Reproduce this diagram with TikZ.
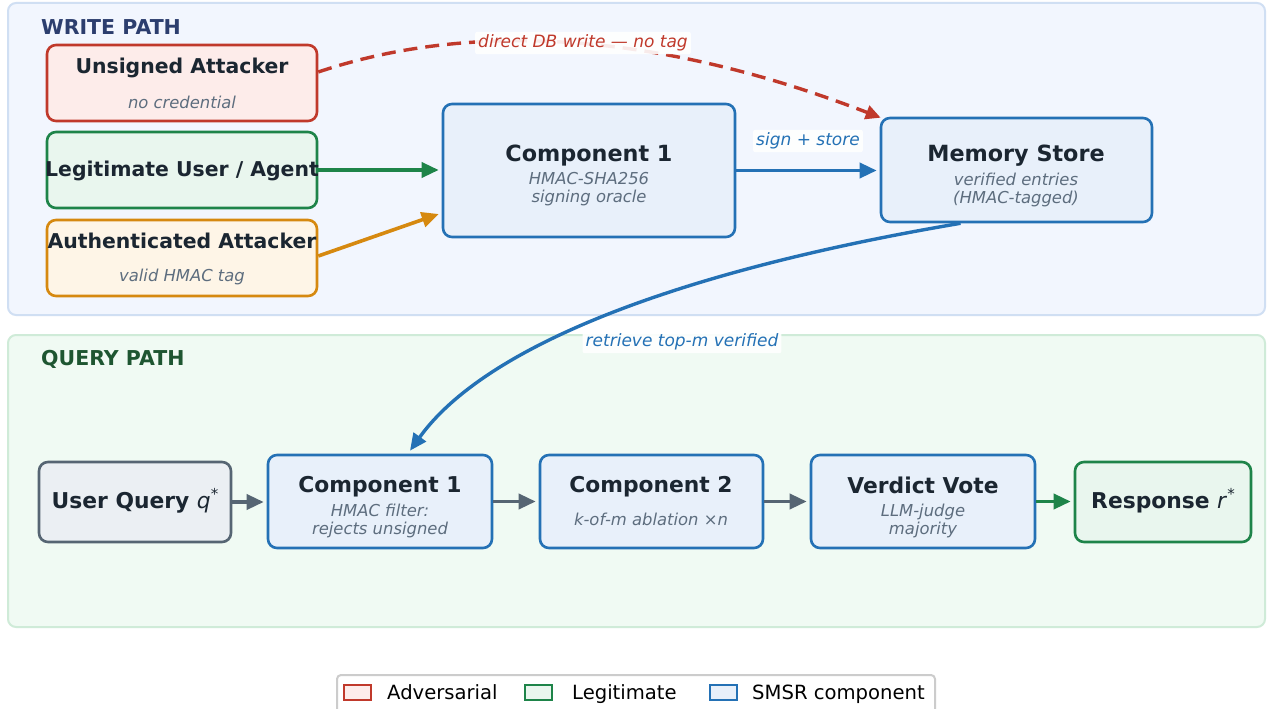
\documentclass[tikz,border=0pt]{standalone}
\usepackage{fontspec}
\setmainfont{DejaVu Sans}
\usetikzlibrary{arrows.meta}
\definecolor{cred}{HTML}{C0392B}\definecolor{credf}{HTML}{FDECEA}
\definecolor{cgreen}{HTML}{1E8449}\definecolor{cgreenf}{HTML}{E9F6EE}
\definecolor{corange}{HTML}{D68910}\definecolor{corangef}{HTML}{FEF5E7}
\definecolor{cblue}{HTML}{2471B5}\definecolor{cbluef}{HTML}{E8F0FA}
\definecolor{cgray}{HTML}{566573}\definecolor{cgrayf}{HTML}{EBEFF3}
\definecolor{ctext}{HTML}{1B2631}\definecolor{csub}{HTML}{5D6D7E}
\definecolor{wpf}{HTML}{F2F6FE}\definecolor{wpd}{HTML}{D0DFF3}
\definecolor{qpf}{HTML}{F0FAF3}\definecolor{qpd}{HTML}{CFEBD8}
\definecolor{wlab}{HTML}{2C3E6E}\definecolor{qlab}{HTML}{1E5631}
\newcommand{\fs}[1]{\fontsize{#1}{#1}\selectfont}
\newcommand{\fsb}[2]{\fontsize{#1}{#2}\selectfont}
\begin{document}
\begin{tikzpicture}[x=1pt,y=-1pt,
  panel/.style={draw, rounded corners=8pt, line width=2pt},
  boxn/.style={draw, rounded corners=9pt, line width=2.6pt, inner sep=0pt},
  ttl/.style={inner sep=0pt, text=ctext, font=\fs{20.4}\bfseries},
  bigttl/.style={inner sep=0pt, text=ctext, font=\fs{22.3}\bfseries},
  subt/.style={inner sep=0pt, text=csub, font=\fsb{16.4}{18}\itshape, align=center},
  elab/.style={fill=white, fill opacity=0.9, text opacity=1, rounded corners=2pt, inner sep=3pt, font=\fs{17}\itshape},
  arr/.style={line width=3.6pt, -{Triangle[length=17pt,width=15pt]}},
  plab/.style={inner sep=0pt, font=\fs{20.5}\bfseries, anchor=west},
  legp/.style={draw, line width=2pt, minimum width=27pt, minimum height=15pt, inner sep=0pt},
  legt/.style={inner sep=0pt, font=\fs{19.6}, anchor=base west, text=black}]
\clip (0,0) rectangle (1270,709);
\fill[white] (0,0) rectangle (1270,709);
% panels
\draw[panel, draw=wpd, fill=wpf] (8,3) rectangle (1265,315);
\draw[panel, draw=qpd, fill=qpf] (8,335) rectangle (1265,627);
\node[plab, text=wlab] (wl) at (41,27.5) {WRITE PATH};
\node[plab, text=qlab] (ql) at (41,359.5) {QUERY PATH};
% write path boxes
\node[boxn, draw=cred, fill=credf, minimum width=270pt, minimum height=76pt] (ua) at (182,83) {};
\node[ttl] (uat) at (182,68) {Unsigned Attacker};
\node[subt] (uas) at (182,102) {no credential};
\node[boxn, draw=cgreen, fill=cgreenf, minimum width=270pt, minimum height=76pt] (lu) at (182,170) {};
\node[ttl] (lut) at (182,171) {Legitimate User / Agent};
\node[boxn, draw=corange, fill=corangef, minimum width=270pt, minimum height=76pt] (aa) at (182,258) {};
\node[ttl] (aat) at (182,241) {Authenticated Attacker};
\node[subt] (aas) at (182,276.5) {valid HMAC tag};
\node[boxn, draw=cblue, fill=cbluef, minimum width=292pt, minimum height=133pt] (c1) at (589,170.5) {};
\node[bigttl] (c1t) at (589,155.5) {Component 1};
\node[subt] (c1s) at (589,189.5) {HMAC-SHA256\\signing oracle};
\node[boxn, draw=cblue, fill=cbluef, minimum width=271pt, minimum height=104pt] (ms) at (1016.5,170) {};
\node[bigttl] (mst) at (1016,155.5) {Memory Store};
\node[subt] (mss) at (1016,189.5) {verified entries\\(HMAC-tagged)};
% query path boxes
\node[boxn, draw=cgray, fill=cgrayf, minimum width=192pt, minimum height=80pt] (uq) at (135,502) {};
\node[bigttl, font=\fs{21.8}\bfseries] (uqt) at (135,500.5) {User Query \textmd{\textit{q}}\raisebox{0.75ex}{\fs{15}\mdseries *}};
\node[boxn, draw=cblue, fill=cbluef, minimum width=224pt, minimum height=93pt] (c1b) at (380,501.5) {};
\node[bigttl, font=\fs{21.8}\bfseries] (c1bt) at (380,487) {Component 1};
\node[subt] (c1bs) at (380,520.5) {HMAC filter:\\rejects unsigned};
\node[boxn, draw=cblue, fill=cbluef, minimum width=223pt, minimum height=93pt] (c2) at (651.5,501.5) {};
\node[bigttl, font=\fs{21.8}\bfseries] (c2t) at (651,487) {Component 2};
\node[subt] (c2s) at (651,519.5) {k-of-m ablation ×n};
\node[boxn, draw=cblue, fill=cbluef, minimum width=224pt, minimum height=93pt] (vv) at (923,501.5) {};
\node[bigttl, font=\fs{21.8}\bfseries] (vvt) at (923,485) {Verdict Vote};
\node[subt] (vvs) at (923,520.5) {LLM-judge\\majority};
\node[boxn, draw=cgreen, fill=cgreenf, minimum width=176pt, minimum height=80pt] (rs) at (1163,502) {};
\node[bigttl, font=\fs{21.8}\bfseries] (rst) at (1163,500.5) {Response \textmd{\textit{r}}\raisebox{0.75ex}{\fs{15}\mdseries *}};
% connectors
\draw[arr, cgreen] (lu.east) -- ([xshift=-3pt]c1.west |- lu.east);
\draw[arr, corange] ([yshift=2pt]aa.east) -- ([xshift=-3pt,yshift=-43.5pt]c1.west);
\draw[arr, cblue] (c1.east) -- ([xshift=-3pt]ms.west |- c1.east);
\node[elab, text=cblue] (l1) at (808,141) {sign + store};
\coordinate (ua1) at ([yshift=11pt]ua.east);
\coordinate (ms1) at ([xshift=1pt,yshift=-1pt]ms.north west);
\draw[line width=3.4pt, cred, dash pattern=on 14pt off 8pt, -{Triangle[length=15pt,width=14pt]}]
  (ua1) .. controls (476,19) and (664,34) .. (ms1);
\node[elab, text=cred] (l2) at (583,43) {direct DB write — no tag};
\coordinate (ms2) at ([xshift=-56pt]ms.south);
\coordinate (c1b2) at ([xshift=30pt,yshift=3pt]c1b.north);
\draw[arr, line width=3.4pt, cblue] (ms2) .. controls (667,273) and (483,349) .. (c1b2);
\node[elab, text=cblue] (l3) at (682,342) {retrieve top-m verified};
\draw[arr, cgray] (uq.east) -- ([xshift=-3pt]c1b.west |- uq.east);
\draw[arr, cgray] (c1b.east) -- ([xshift=-3pt]c2.west);
\draw[arr, cgray] (c2.east) -- ([xshift=-3pt]vv.west);
\draw[arr, cgreen] (vv.east) -- ([xshift=-3pt]rs.west |- vv.east);
% legend
\draw[line width=2pt, draw=black!20, fill=white, rounded corners=4pt] (337,675) rectangle (935,722);
\node[legp, draw=cred, fill=credf] (lg1) at (357.5,692) {};
\node[legt] (lg1t) at (387,699) {Adversarial};
\node[legp, draw=cgreen, fill=cgreenf] (lg2) at (538.5,692) {};
\node[legt] (lg2t) at (572,699) {Legitimate};
\node[legp, draw=cblue, fill=cbluef] (lg3) at (723.5,692) {};
\node[legt] (lg3t) at (752,699) {SMSR component};
\end{tikzpicture}
\end{document}
